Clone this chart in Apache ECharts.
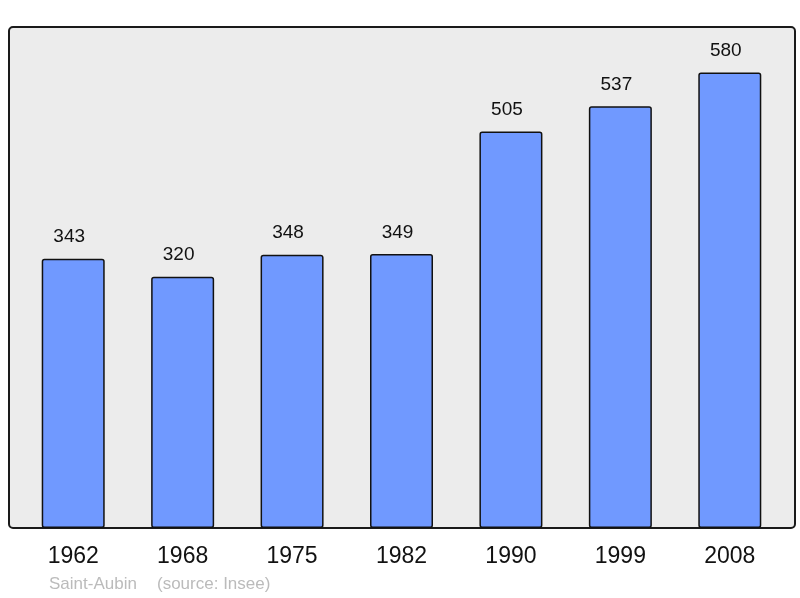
<!DOCTYPE html>
<html>
<head>
<meta charset="utf-8">
<script src="https://cdn.jsdelivr.net/npm/echarts@6/dist/echarts.min.js"></script>
<style>html,body{margin:0;padding:0;background:#fff}#c{width:800px;height:598px}</style>
</head>
<body>
<div id="c"></div>
<script>
const years = ['1962','1968','1975','1982','1990','1999','2008'];
const population = [343, 320, 348, 349, 505, 537, 580];
const placeName = 'Saint-Aubin';
const sourceText = '(source: Insee)';

const FONT = 'Liberation Sans, Arial, sans-serif';
const chart = echarts.init(document.getElementById('c'), null, {renderer: 'canvas'});
chart.setOption({
  animation: false,
  textStyle: {fontFamily: FONT},
  graphic: [
    {type: 'rect', z: -10, shape: {x: 9, y: 27, width: 786, height: 501, r: 4},
     style: {fill: '#ececec', stroke: '#1a1a1a', lineWidth: 2}},
    {type: 'text', left: 49, top: 576,
     style: {text: placeName, fill: '#bbbbbb', fontSize: 17, fontFamily: FONT}},
    {type: 'text', left: 157, top: 576,
     style: {text: sourceText, fill: '#bbbbbb', fontSize: 17, fontFamily: FONT}}
  ],
  grid: {left: 18.5, right: 15.5, top: 27, bottom: 70},
  xAxis: {
    type: 'category', data: years,
    axisLine: {show: false}, axisTick: {show: false},
    axisLabel: {fontSize: 23, color: '#111', margin: 17}
  },
  yAxis: {type: 'value', min: 0, max: 638, show: false, splitLine: {show: false}},
  series: [{
    type: 'bar', data: population, barWidth: 63,
    itemStyle: {color: '#7099ff', borderColor: '#111', borderWidth: 1.5, borderRadius: 2},
    label: {show: true, position: 'top', distance: 12, offset: [-4, 0], fontSize: 19, color: '#111'}
  }]
});
</script>
</body>
</html>
